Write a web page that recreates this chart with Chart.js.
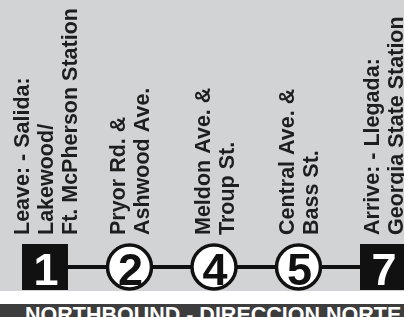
<!DOCTYPE html>
<html>
<head>
<meta charset="utf-8">
<script src="https://cdn.jsdelivr.net/npm/chart.js@4.4.1/dist/chart.umd.min.js"></script>
<style>
    html, body { margin: 0; padding: 0; background: #ffffff; }
    body { width: 404px; height: 317px; position: relative; overflow: hidden; }
    .panel { position: absolute; left: 0; top: 0; width: 404px; height: 291px; background: #d1d3d4; }
    .banner {
        position: absolute; left: 0; top: 304px; width: 404px; height: 13px;
        background: #3d3d3d; overflow: hidden;
    }
    .banner span {
        position: absolute; left: 25px; top: -1px; white-space: nowrap;
        font: bold 21.5px "Liberation Sans", Arial, sans-serif; color: #ffffff;
        line-height: 24px;
    }
    #wrap { position: absolute; left: 0; top: 0; width: 404px; height: 317px; }
</style>
</head>
<body>
<div class="panel"></div>
<div class="banner"><span>NORTHBOUND - DIRECCION NORTE</span></div>
<div id="wrap"><canvas id="routeChart" width="404" height="317"></canvas></div>
<script>
// 站点数据
const stopIndex = [0, 1, 2, 3, 4];
const stopNumbers = ['1', '2', '4', '5', '7'];
const stopNames = [
    ['Leave: - Salida:', 'Lakewood/', 'Ft. McPherson Station'],
    ['Pryor Rd. &', 'Ashwood Ave.'],
    ['Meldon Ave. &', 'Troup St.'],
    ['Central Ave. &', 'Bass St.'],
    ['Arrive: - Llegada:', 'Georgia State Station']
];
const isTerminal = [true, false, false, false, true];

const labelFont = 'bold 21.5px "Liberation Sans", Arial, sans-serif';
const digitFont = 'bold 45px "Liberation Sans", Arial, sans-serif';

// 站名和编号绘制插件
const stopTextPlugin = {
    id: 'stopText',
    afterDatasetsDraw(chart) {
        const ctx = chart.ctx;
        const xs = chart.scales.x;
        const ys = chart.scales.y;
        const lineY = ys.getPixelForValue(0);
        const lh = 24;
        const capH = 15.4;

        ctx.save();
        // 竖排站名
        ctx.font = labelFont;
        ctx.fillStyle = '#1e1e1e';
        ctx.textAlign = 'left';
        ctx.textBaseline = 'alphabetic';
        stopNames.forEach((lines, i) => {
            const px = xs.getPixelForValue(stopIndex[i]);
            lines.forEach((text, j) => {
                const bx = px + (j - (lines.length - 1) / 2) * lh + capH / 2;
                ctx.save();
                ctx.translate(bx, lineY - 32);
                ctx.rotate(-Math.PI / 2);
                ctx.fillText(text, 0, 0);
                ctx.restore();
            });
        });

        // 站点编号
        ctx.font = digitFont;
        ctx.textAlign = 'center';
        stopNumbers.forEach((num, i) => {
            const px = xs.getPixelForValue(stopIndex[i]);
            ctx.fillStyle = isTerminal[i] ? '#ffffff' : '#111111';
            ctx.fillText(num, px + 1, lineY + 18);
        });
        ctx.restore();
    }
};

const ctx = document.getElementById('routeChart').getContext('2d');

new Chart(ctx, {
    type: 'line',
    data: {
        datasets: [{
            data: stopIndex.map(i => ({ x: i, y: 0 })),
            borderColor: '#111111',
            borderWidth: 4,
            pointStyle: isTerminal.map(t => t ? 'rect' : 'circle'),
            pointRadius: isTerminal.map(t => t ? 32.5 : 22),
            pointBackgroundColor: isTerminal.map(t => t ? '#111111' : '#ffffff'),
            pointBorderColor: '#111111',
            pointBorderWidth: isTerminal.map(t => t ? 0 : 3.5),
            clip: false
        }]
    },
    options: {
        responsive: false,
        animation: false,
        events: [],
        layout: { padding: 0, autoPadding: false },
        plugins: {
            legend: { display: false },
            tooltip: { enabled: false }
        },
        scales: {
            x: {
                type: 'linear',
                display: false,
                min: -0.5325,
                max: 4.2486
            },
            y: {
                display: false,
                min: -50,
                max: 267
            }
        }
    },
    plugins: [stopTextPlugin]
});
</script>
</body>
</html>
